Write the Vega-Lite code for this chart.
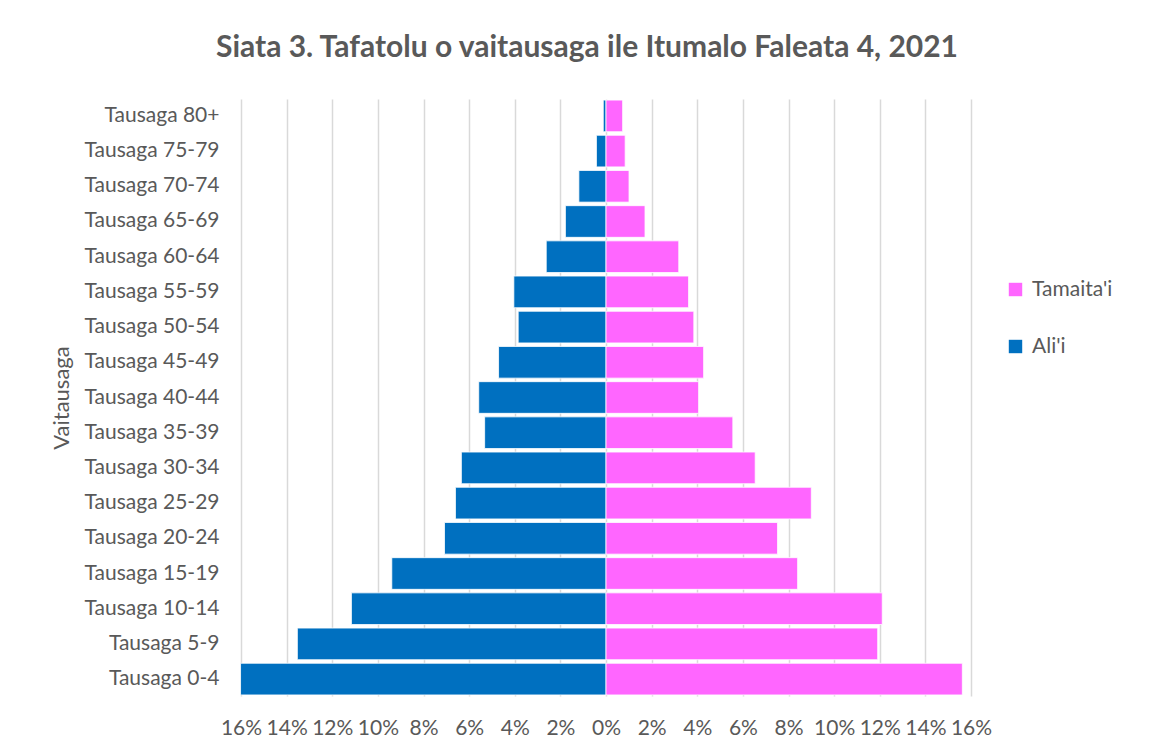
{
  "$schema": "https://vega.github.io/schema/vega-lite/v6.json",
  "autosize": "none",
  "width": 730,
  "height": 597,
  "padding": {"left": 241, "top": 99, "right": 193, "bottom": 58},
  "background": "white",
  "title": {
    "text": "Siata 3. Tafatolu o vaitausaga ile Itumalo Faleata 4, 2021",
    "font": "Lato",
    "fontSize": 30,
    "fontWeight": "bold",
    "color": "#595959",
    "anchor": "middle",
    "frame": "group",
    "dx": -19,
    "offset": 36
  },
  "data": {
    "values": [
      {"age": "Tausaga 80+", "sex": "Ali'i", "pct": -0.12},
      {"age": "Tausaga 75-79", "sex": "Ali'i", "pct": -0.42},
      {"age": "Tausaga 70-74", "sex": "Ali'i", "pct": -1.19},
      {"age": "Tausaga 65-69", "sex": "Ali'i", "pct": -1.78},
      {"age": "Tausaga 60-64", "sex": "Ali'i", "pct": -2.62},
      {"age": "Tausaga 55-59", "sex": "Ali'i", "pct": -4.04},
      {"age": "Tausaga 50-54", "sex": "Ali'i", "pct": -3.85},
      {"age": "Tausaga 45-49", "sex": "Ali'i", "pct": -4.71},
      {"age": "Tausaga 40-44", "sex": "Ali'i", "pct": -5.58},
      {"age": "Tausaga 35-39", "sex": "Ali'i", "pct": -5.32},
      {"age": "Tausaga 30-34", "sex": "Ali'i", "pct": -6.34},
      {"age": "Tausaga 25-29", "sex": "Ali'i", "pct": -6.6},
      {"age": "Tausaga 20-24", "sex": "Ali'i", "pct": -7.08},
      {"age": "Tausaga 15-19", "sex": "Ali'i", "pct": -9.39},
      {"age": "Tausaga 10-14", "sex": "Ali'i", "pct": -11.16},
      {"age": "Tausaga 5-9", "sex": "Ali'i", "pct": -13.53},
      {"age": "Tausaga 0-4", "sex": "Ali'i", "pct": -16.02},
      {"age": "Tausaga 80+", "sex": "Tamaita'i", "pct": 0.73},
      {"age": "Tausaga 75-79", "sex": "Tamaita'i", "pct": 0.84},
      {"age": "Tausaga 70-74", "sex": "Tamaita'i", "pct": 1.01},
      {"age": "Tausaga 65-69", "sex": "Tamaita'i", "pct": 1.71},
      {"age": "Tausaga 60-64", "sex": "Tamaita'i", "pct": 3.19},
      {"age": "Tausaga 55-59", "sex": "Tamaita'i", "pct": 3.62},
      {"age": "Tausaga 50-54", "sex": "Tamaita'i", "pct": 3.85},
      {"age": "Tausaga 45-49", "sex": "Tamaita'i", "pct": 4.28},
      {"age": "Tausaga 40-44", "sex": "Tamaita'i", "pct": 4.06},
      {"age": "Tausaga 35-39", "sex": "Tamaita'i", "pct": 5.56},
      {"age": "Tausaga 30-34", "sex": "Tamaita'i", "pct": 6.54},
      {"age": "Tausaga 25-29", "sex": "Tamaita'i", "pct": 9.0},
      {"age": "Tausaga 20-24", "sex": "Tamaita'i", "pct": 7.52},
      {"age": "Tausaga 15-19", "sex": "Tamaita'i", "pct": 8.4},
      {"age": "Tausaga 10-14", "sex": "Tamaita'i", "pct": 12.11},
      {"age": "Tausaga 5-9", "sex": "Tamaita'i", "pct": 11.91},
      {"age": "Tausaga 0-4", "sex": "Tamaita'i", "pct": 15.62}
    ]
  },
  "mark": {"type": "bar", "stroke": "white", "strokeWidth": 0.8},
  "encoding": {
    "y": {
      "field": "age",
      "type": "nominal",
      "sort": ["Tausaga 80+", "Tausaga 75-79", "Tausaga 70-74", "Tausaga 65-69", "Tausaga 60-64", "Tausaga 55-59", "Tausaga 50-54", "Tausaga 45-49", "Tausaga 40-44", "Tausaga 35-39", "Tausaga 30-34", "Tausaga 25-29", "Tausaga 20-24", "Tausaga 15-19", "Tausaga 10-14", "Tausaga 5-9", "Tausaga 0-4"],
      "scale": {"paddingInner": 0.1, "paddingOuter": 0.03},
      "axis": {
        "title": "Vaitausaga",
        "titleFont": "Lato",
        "titleFontSize": 22,
        "titleFontWeight": "normal",
        "titleColor": "#595959",
        "titlePadding": 11,
        "labelFont": "Lato",
        "labelFontSize": 21,
        "labelColor": "#595959",
        "labelPadding": 22,
        "ticks": false,
        "domain": false,
        "grid": false
      }
    },
    "x": {
      "field": "pct",
      "type": "quantitative",
      "stack": null,
      "scale": {"domain": [-16, 16], "nice": false},
      "axis": {
        "title": null,
        "values": [-16, -14, -12, -10, -8, -6, -4, -2, 0, 2, 4, 6, 8, 10, 12, 14, 16],
        "labelExpr": "abs(datum.value) + '%'",
        "labelFont": "Lato",
        "labelFontSize": 21,
        "labelColor": "#595959",
        "labelPadding": 21,
        "labelOverlap": false,
        "labelFlush": false,
        "ticks": false,
        "domain": false,
        "grid": true,
        "gridColor": "#D9D9D9",
        "gridWidth": 1.5
      }
    },
    "color": {
      "field": "sex",
      "type": "nominal",
      "scale": {"domain": ["Tamaita'i", "Ali'i"], "range": ["#FF66FF", "#0070C0"]},
      "legend": {
        "title": null,
        "orient": "none",
        "legendX": 764,
        "legendY": 180,
        "symbolType": "square",
        "symbolSize": 180,
        "symbolStrokeWidth": 0,
        "labelFont": "Lato",
        "labelFontSize": 21,
        "labelColor": "#595959",
        "labelOffset": 6,
        "rowPadding": 35
      }
    }
  },
  "config": {"view": {"stroke": null}}
}
